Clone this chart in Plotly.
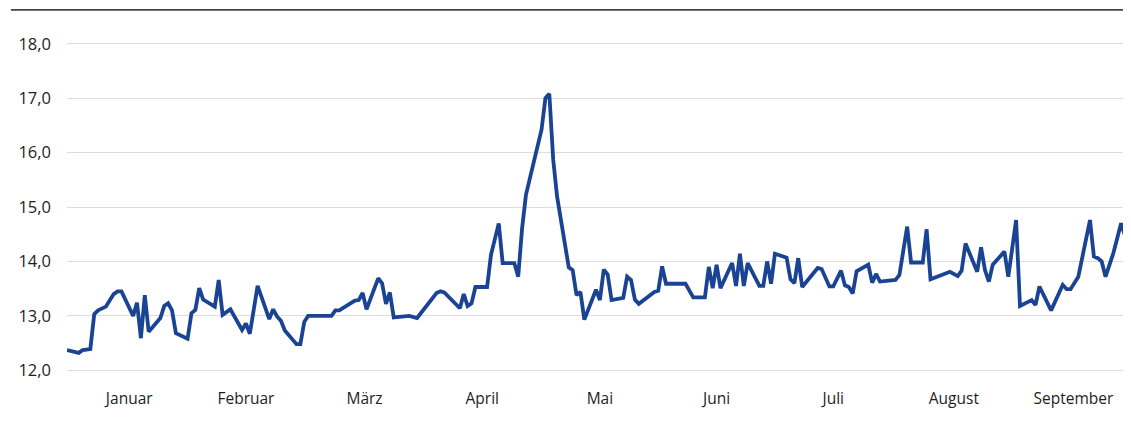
import plotly.graph_objects as go

# ---- data ----
dates = [
    "2023-01-01", "2023-01-04", "2023-01-05", "2023-01-07", "2023-01-08", "2023-01-09", "2023-01-11",
    "2023-01-13", "2023-01-14", "2023-01-15", "2023-01-18", "2023-01-19", "2023-01-20", "2023-01-21",
    "2023-01-22", "2023-01-25", "2023-01-26", "2023-01-27", "2023-01-28", "2023-01-29",
    "2023-02-01", "2023-02-02", "2023-02-03", "2023-02-04", "2023-02-05", "2023-02-08", "2023-02-09",
    "2023-02-10", "2023-02-12", "2023-02-15", "2023-02-16", "2023-02-17", "2023-02-19", "2023-02-22",
    "2023-02-23", "2023-02-24", "2023-02-25", "2023-02-26",
    "2023-03-01", "2023-03-02", "2023-03-03", "2023-03-04", "2023-03-10", "2023-03-11", "2023-03-12",
    "2023-03-16", "2023-03-17", "2023-03-18", "2023-03-19", "2023-03-22", "2023-03-23", "2023-03-24",
    "2023-03-25", "2023-03-26", "2023-03-30",
    "2023-04-01", "2023-04-06", "2023-04-07", "2023-04-08", "2023-04-12", "2023-04-13", "2023-04-14",
    "2023-04-15", "2023-04-16", "2023-04-19", "2023-04-20", "2023-04-22", "2023-04-23", "2023-04-26",
    "2023-04-27", "2023-04-28", "2023-04-29",
    "2023-05-03", "2023-05-04", "2023-05-05", "2023-05-06", "2023-05-07", "2023-05-10", "2023-05-11",
    "2023-05-12", "2023-05-13", "2023-05-14", "2023-05-17", "2023-05-18", "2023-05-19", "2023-05-20",
    "2023-05-21", "2023-05-24", "2023-05-25", "2023-05-26", "2023-05-27", "2023-05-28",
    "2023-06-01", "2023-06-02", "2023-06-03", "2023-06-04", "2023-06-09", "2023-06-11", "2023-06-14",
    "2023-06-15", "2023-06-16", "2023-06-17", "2023-06-18", "2023-06-21", "2023-06-22", "2023-06-23",
    "2023-06-24", "2023-06-25", "2023-06-28", "2023-06-29", "2023-06-30",
    "2023-07-01", "2023-07-02", "2023-07-05", "2023-07-06", "2023-07-07", "2023-07-08", "2023-07-09",
    "2023-07-13", "2023-07-14", "2023-07-16", "2023-07-17", "2023-07-19", "2023-07-20", "2023-07-21",
    "2023-07-22", "2023-07-23", "2023-07-26", "2023-07-27", "2023-07-28", "2023-07-29",
    "2023-08-02", "2023-08-03", "2023-08-05", "2023-08-06", "2023-08-09", "2023-08-10", "2023-08-11",
    "2023-08-16", "2023-08-18", "2023-08-19", "2023-08-20", "2023-08-23", "2023-08-24", "2023-08-25",
    "2023-08-26", "2023-08-27", "2023-08-30", "2023-08-31",
    "2023-09-02", "2023-09-03", "2023-09-06", "2023-09-07", "2023-09-08", "2023-09-11", "2023-09-14",
    "2023-09-15", "2023-09-16", "2023-09-18", "2023-09-21", "2023-09-22", "2023-09-23", "2023-09-24",
    "2023-09-25", "2023-09-27", "2023-09-29", "2023-09-30",
]

values = [
    12.37, 12.32, 12.37, 12.39, 13.03, 13.10, 13.17,
    13.40, 13.45, 13.45, 13.00, 13.24, 12.59, 13.38,
    12.71, 12.96, 13.18, 13.23, 13.10, 12.68,
    12.58, 13.05, 13.11, 13.51, 13.30, 13.17, 13.66,
    13.02, 13.12, 12.74, 12.86, 12.67, 13.55, 12.94,
    13.12, 12.99, 12.91, 12.73,
    12.48, 12.48, 12.89, 13.00, 13.00, 13.10, 13.10,
    13.28, 13.29, 13.42, 13.12, 13.69, 13.60, 13.22,
    13.43, 12.97, 13.00,
    12.96, 13.42, 13.45, 13.43, 13.14, 13.40, 13.18,
    13.23, 13.53, 13.53, 14.12, 14.70, 13.97, 13.97,
    13.72, 14.61, 15.23,
    16.42, 17.00, 17.08, 15.87, 15.19, 13.89, 13.84,
    13.38, 13.44, 12.93, 13.48, 13.29, 13.85, 13.76,
    13.29, 13.33, 13.72, 13.66, 13.30, 13.22,
    13.44, 13.46, 13.91, 13.59, 13.59, 13.34, 13.34,
    13.90, 13.51, 13.94, 13.51, 13.97, 13.55, 14.14,
    13.55, 13.97, 13.55, 13.55, 14.00,
    13.59, 14.14, 14.07, 13.67, 13.60, 14.06, 13.53,
    13.88, 13.86, 13.54, 13.54, 13.83, 13.56, 13.53,
    13.41, 13.82, 13.94, 13.61, 13.77, 13.63,
    13.66, 13.75, 14.64, 13.98, 13.98, 14.59, 13.67,
    13.81, 13.73, 13.83, 14.33, 13.81, 14.26, 13.84,
    13.63, 13.94, 14.18, 13.72,
    14.76, 13.18, 13.29, 13.20, 13.54, 13.10, 13.57,
    13.49, 13.49, 13.72, 14.76, 14.09, 14.06, 14.00,
    13.72, 14.15, 14.70, 14.47,
]

month_ticks = ["2023-01-17", "2023-02-16", "2023-03-18 12:00", "2023-04-17 18:00", "2023-05-18",
               "2023-06-17", "2023-07-17", "2023-08-17", "2023-09-16 18:00"]
month_labels = ["Januar", "Februar", "März", "April", "Mai", "Juni", "Juli", "August", "September"]

y_ticks = [12, 13, 14, 15, 16, 17, 18]

assert len(dates) == len(values), (len(dates), len(values))

fig = go.Figure()
fig.add_trace(go.Scatter(
    x=dates, y=values, mode="lines",
    line=dict(color="#1a4394", width=3.8),
    hoverinfo="skip", showlegend=False,
))

# the page body adds an 8px offset, so the figure is 8px smaller than the window
fig.update_layout(
    width=1123, height=422,
    margin=dict(l=59, r=6, t=33, b=57, autoexpand=False),
    paper_bgcolor="white", plot_bgcolor="white",
    separators=",.",
    font=dict(family="Open Sans, Noto Sans, sans-serif", size=16, color="#222222"),
    xaxis=dict(
        type="date", automargin=False,
        range=["2023-01-01", "2023-09-30"],
        tickmode="array", tickvals=month_ticks, ticktext=month_labels,
        showgrid=False, zeroline=False, showline=False,
        ticks="", ticklabelstandoff=14,
        tickfont=dict(size=15.5, color="#1e1e1e"),
    ),
    yaxis=dict(
        automargin=False,
        range=[11.95, 18.05],
        tickmode="array", tickvals=y_ticks, tickformat=".1f",
        showgrid=True, gridcolor="#dcdcdc", gridwidth=1,
        zeroline=False, showline=False, ticks="",
        ticklabelstandoff=15,
        tickfont=dict(size=16.5, color="#1e1e1e"),
    ),
    shapes=[dict(
        type="line", xref="paper", yref="paper",
        x0=-0.053, x1=1.0, y0=1.0935, y1=1.0935,
        line=dict(color="#444444", width=1.7),
    )],
)

fig.write_html("out.html")
